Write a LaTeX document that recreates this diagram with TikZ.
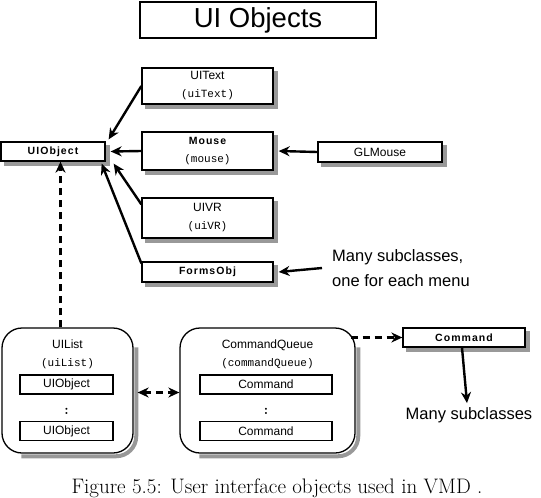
\documentclass[tikz,border=0pt]{standalone}
\usepackage{fontspec}
\setsansfont{Liberation Sans}
\setmonofont{Liberation Mono}
\usetikzlibrary{arrows.meta}

\definecolor{sombragris}{gray}{0.6}
\tikzset{
  clase/.style={draw, line width=1.3pt, fill=white, align=center, inner sep=0pt,
    font=\sffamily\fontsize{12}{18}\selectfont},
  negrita/.style={clase, font=\sffamily\bfseries\fontsize{10.5}{12}\selectfont\addfontfeature{LetterSpace=10}},
  lista/.style={draw, line width=1.3pt, fill=white, rounded corners=20pt,
    minimum height=125pt, align=center, inner sep=0pt},
  elem/.style={draw, line width=1.1pt, fill=white, inner sep=0pt, minimum height=19pt,
    font=\sffamily\fontsize{12}{13}\selectfont},
  nota/.style={font=\sffamily\fontsize{16.5}{25}\selectfont, align=left, inner sep=0pt},
  flecha/.style={line width=2.4pt, -{Stealth[length=11pt,width=10pt]}},
  trazos/.style={flecha, dash pattern=on 7pt off 5pt},
  sombra/.style={draw=sombragris, line width=4pt, line cap=butt, line join=miter}
}
% sombra a la derecha y debajo de una caja
\newcommand{\sombrear}[1]{%
  \draw[sombra] ([shift={(2.6pt,-4pt)}]#1.north east) -- ([shift={(2.6pt,-2.6pt)}]#1.south east)
    -- ([shift={(4pt,-2.6pt)}]#1.south west);}
\newcommand{\sombrearlista}[1]{%
  \draw[sombra, rounded corners=20pt] ([shift={(2.6pt,-20pt)}]#1.north east)
    -- ([shift={(2.6pt,-2.6pt)}]#1.south east) -- ([shift={(20pt,-2.6pt)}]#1.south west);}

\begin{document}
\begin{tikzpicture}[x=1pt, y=-1pt]
  \useasboundingbox (0,0) rectangle (541,498);

  % Titulo
  \node[draw, line width=2pt, minimum width=236pt, minimum height=36pt, inner sep=0pt,
    font=\sffamily\fontsize{27.5}{30}\selectfont] (titulo) at (258,20) {UI Objects};

  % Clase base y subclases
  \node[negrita, minimum width=104pt, minimum height=19pt] (uiobject) at (53,151.5) {UIObject};
  \node[clase, minimum width=131pt, minimum height=36pt] (uitext) at (207.5,86)
    {UIText\\{\ttfamily\fontsize{11}{12}\selectfont (uiText)}};
  \node[clase, minimum width=131pt, minimum height=38pt] (mouse) at (207.5,151)
    {{\bfseries\fontsize{10.5}{12}\selectfont\addfontfeature{LetterSpace=10}Mouse}\\{\ttfamily\fontsize{11}{12}\selectfont (mouse)}};
  \node[clase, minimum width=124pt, minimum height=20pt] (glmouse) at (380,152) {GLMouse};
  \node[clase, minimum width=131pt, minimum height=40pt] (uivr) at (207.5,218)
    {UIVR\\{\ttfamily\fontsize{11}{12}\selectfont (uiVR)}};
  \node[negrita, minimum width=131pt, minimum height=20pt] (formsobj) at (207.5,272) {FormsObj};
  \node[nota, anchor=west] (menus) at (332,268) {Many subclasses,\\one for each menu};

  % Listas
  \node[lista, minimum width=131pt] (uilist) at (67.5,390.5) {};
  \node[font=\sffamily\fontsize{12}{18}\selectfont, align=center] (uilistt) at (67.5,354)
    {UIList\\{\ttfamily\fontsize{11}{12}\selectfont (uiList)}};
  \node[elem, minimum width=93pt] (objA) at (66.5,384.5) {UIObject};
  \node[elem, minimum width=93pt] (objB) at (66.5,431) {UIObject};
  \node[font=\bfseries\fontsize{14}{14}\selectfont, inner sep=0pt] (puntosA) at (66.5,411) {:};

  \node[lista, minimum width=175pt] (cola) at (267.5,390.5) {};
  \node[font=\sffamily\fontsize{12}{18}\selectfont, align=center] (colat) at (267.5,354)
    {CommandQueue\\{\ttfamily\fontsize{11}{12}\selectfont (commandQueue)}};
  \node[elem, minimum width=132pt] (cmdA) at (266,384.5) {Command};
  \node[elem, minimum width=132pt] (cmdB) at (266,431) {Command};
  \node[font=\bfseries\fontsize{14}{14}\selectfont, inner sep=0pt] (puntosB) at (266,411) {:};

  \node[negrita, minimum width=122pt, minimum height=19pt] (command) at (464,337.5) {Command};
  \node[nota] (subcl) at (469,415) {Many subclasses};

  % Sombras
  \sombrear{uiobject}
  \sombrear{uitext}
  \sombrear{mouse}
  \sombrear{glmouse}
  \sombrear{uivr}
  \sombrear{formsobj}
  \sombrear{command}
  \sombrearlista{uilist}
  \sombrearlista{cola}

  % Herencia
  \draw[flecha] (uitext.west) -- ([xshift=3pt,yshift=2pt]uiobject.north east);
  \draw[flecha] (mouse.west) -- ([xshift=5pt]uiobject.east);
  \draw[flecha] (glmouse.west) -- ([xshift=5pt]mouse.east);
  \draw[flecha] ([yshift=-7pt]uivr.north west) -- ([xshift=8pt,yshift=-2pt]uiobject.south east);
  \draw[flecha] ([yshift=-2pt]formsobj.north west) -- ([xshift=-4pt,yshift=-2pt]uiobject.south east);
  \draw[flecha] ([xshift=-10pt]menus.west) -- ([xshift=5pt]formsobj.east);

  % Relaciones
  \draw[trazos] ([xshift=-7pt]uilist.north) -- ([xshift=-7pt]uilist.north |- uiobject.south);
  \draw[trazos, {Stealth[length=11pt,width=10pt]}-{Stealth[length=11pt,width=10pt]}]
    ([xshift=4pt,yshift=-2pt]uilist.east) -- ([yshift=-2pt]cola.west);
  \draw[trazos] ([xshift=-5pt]cola.east |- command.west) -- (command.west);
  \draw[flecha] ([xshift=-2pt]command.south) -- ([xshift=-2pt,yshift=4pt]subcl.north);

  % Pie de figura
  \node[font=\fontsize{21}{24}\selectfont] (pie) at (277,488)
    {Figure 5.5: User interface objects used in VMD .};
\end{tikzpicture}
\end{document}
